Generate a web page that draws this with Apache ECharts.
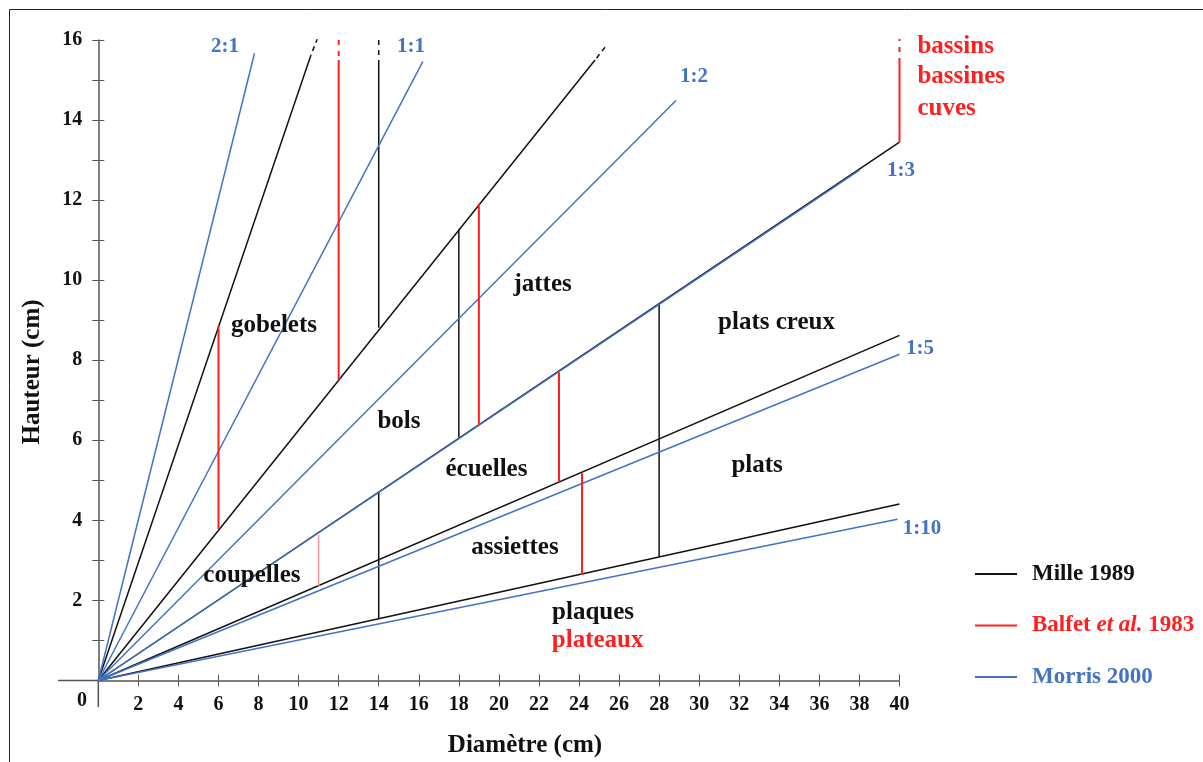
<!DOCTYPE html>
<html>
<head>
<meta charset="utf-8">
<script src="https://cdn.jsdelivr.net/npm/echarts@6/dist/echarts.min.js"></script>
<style>
html, body { margin: 0; padding: 0; background: #fff; }
#chart { width: 1203px; height: 762px; }
</style>
</head>
<body>
<div id="chart"></div>
<script>
// Mille 1989 : droites issues de l'origine (fin du trait plein)
var milleRays = [[10.6, 15.6], [24.8, 15.5], [40, 13.45], [40, 8.62], [40, 4.41]];
// prolongement en pointillés [x1, y1, x2, y2]
var milleRayTips = [[10.6, 15.6, 10.95, 16.05], [24.8, 15.5, 25.3, 15.82]];
// limites verticales [diamètre, hauteur basse, hauteur haute]
var milleBounds = [[14, 8.81, 15.5], [14, 1.55, 4.7], [18, 6.07, 11.28], [28, 3.1, 9.39]];
var milleBoundTips = [[14, 15.5, 16]];

// Balfet et al. 1983
var balfetBounds = [[6, 3.78, 8.85], [12, 7.51, 15.5], [19, 6.39, 11.91], [23, 4.97, 7.7], [24.15, 2.64, 5.18], [40, 13.45, 15.5]];
var balfetFaint = [[11, 2.36, 3.64]];
var balfetBoundTips = [[12, 15.5, 16], [40, 15.5, 16.1]];

// Morris 2000 : rapports diamètre / hauteur
var morrisRays = [[7.8, 15.67], [16.2, 15.46], [28.84, 14.49], [38, 12.75], [40, 8.15], [39.9, 4.03]];
var morrisRatios = ['2:1', '1:1', '1:2', '1:3', '1:5', '1:10'];
var morrisRatioAt = [[6.32, 15.83], [15.61, 15.83], [29.74, 15.08], [40.07, 12.73], [41.02, 8.28], [41.12, 3.79]];

// noms des formes [texte, diamètre, hauteur]
var formes = [
    ['gobelets', 8.77, 8.86],
    ['jattes', 22.18, 9.88],
    ['plats creux', 33.86, 8.93],
    ['bols', 15.01, 6.46],
    ['écuelles', 19.38, 5.28],
    ['plats', 32.89, 5.38],
    ['assiettes', 20.8, 3.31],
    ['coupelles', 7.67, 2.61],
    ['plaques', 24.7, 1.69]
];
var formesRouge = [['plateaux', 24.93, 0.99]];
var bassins = [['bassins', 40.87, 15.83], ['bassines', 40.87, 15.08], ['cuves', 40.87, 14.28]];

var xTicks = [2, 4, 6, 8, 10, 12, 14, 16, 18, 20, 22, 24, 26, 28, 30, 32, 34, 36, 38, 40];
var yTicks = [1, 2, 3, 4, 5, 6, 7, 8, 9, 10, 11, 12, 13, 14, 15, 16];
var yLabels = [2, 4, 6, 8, 10, 12, 14, 16];

var SERIF = '"Liberation Serif", "DejaVu Serif", serif';
var BLACK = '#111111', RED = '#ff1f1f', BLUE = '#4472c4', FAINT = '#f29a9a';
var AXIS = '#555555';

var mychart = echarts.init(document.getElementById('chart'));

function seg(name, color, width, pts, dash, z) {
    return {
        name: name,
        type: 'line',
        data: pts,
        symbol: 'none',
        silent: true,
        animation: false,
        color: color,
        itemStyle: { color: color },
        lineStyle: { color: color, width: width, type: dash || 'solid' },
        z: z
    };
}

function labels(rows, color, size, pos) {
    return {
        type: 'scatter',
        data: rows.map(function (r) { return [r[1], r[2], r[0]]; }),
        symbolSize: 1,
        clip: false,
        silent: true,
        animation: false,
        itemStyle: { color: 'rgba(0,0,0,0)', opacity: 1 },
        label: {
            show: true,
            position: pos || 'inside',
            distance: 0,
            formatter: function (p) { return p.value[2]; },
            color: color,
            opacity: 1,
            fontFamily: SERIF,
            fontWeight: 'bold',
            fontSize: size
        },
        z: 10
    };
}

var series = [];
var MILLE = 'Mille 1989', BALFET = 'Balfet et al. 1983', MORRIS = 'Morris 2000';

milleRays.forEach(function (p) {
    series.push(seg(MILLE, BLACK, 1.5, [[0, 0], p], null, 2));
});
milleRayTips.forEach(function (t) {
    series.push(seg(MILLE, BLACK, 1.5, [[t[2], t[3]], [t[0], t[1]]], [5, 4], 2));
});
milleBounds.forEach(function (b) {
    series.push(seg(MILLE, BLACK, 1.5, [[b[0], b[1]], [b[0], b[2]]], null, 2));
});
milleBoundTips.forEach(function (b) {
    series.push(seg(MILLE, BLACK, 1.5, [[b[0], b[2]], [b[0], b[1]]], [5, 5], 2));
});

morrisRays.forEach(function (p) {
    series.push(seg(MORRIS, BLUE, 1.5, [[0, 0], p], null, 3));
});

balfetBounds.forEach(function (b) {
    series.push(seg(BALFET, RED, 2, [[b[0], b[1]], [b[0], b[2]]], null, 4));
});
balfetFaint.forEach(function (b) {
    series.push(seg(BALFET, FAINT, 1.5, [[b[0], b[1]], [b[0], b[2]]], null, 4));
});
balfetBoundTips.forEach(function (b) {
    series.push(seg(BALFET, RED, 2, [[b[0], b[2]], [b[0], b[1]]], [5, 6], 4));
});

series.push(labels(formes, BLACK, 25));
series.push(labels(formesRouge, RED, 25));
series.push(labels(bassins, RED, 25, 'right'));
series.push(labels(morrisRatios.map(function (n, i) {
    return [n, morrisRatioAt[i][0], morrisRatioAt[i][1]];
}), BLUE, 21));

var tickFont = { fontFamily: SERIF, fontWeight: 'bold', fontSize: 20, color: BLACK };

// les axes : un jeu pour les graduations extérieures, un second pour les graduations intérieures
function xAx(inside) {
    return {
        type: 'value',
        position: 'bottom',
        min: 0,
        max: 40,
        splitLine: { show: false },
        axisLine: { show: !inside, onZero: false, lineStyle: { color: AXIS, width: 1.5 } },
        axisTick: { show: true, inside: inside, length: 6, customValues: xTicks, lineStyle: { color: AXIS, width: 1 } },
        axisLabel: inside ? { show: false } : Object.assign({ show: true, margin: 14, customValues: xTicks }, tickFont)
    };
}
function yAx(inside) {
    return {
        type: 'value',
        position: 'left',
        min: 0,
        max: 16,
        splitLine: { show: false },
        axisLine: { show: !inside, onZero: false, lineStyle: { color: AXIS, width: 1.5 } },
        axisTick: { show: true, inside: inside, length: 6, customValues: yTicks, lineStyle: { color: AXIS, width: 1 } },
        axisLabel: inside ? { show: false } : Object.assign({ show: true, margin: 16, customValues: yLabels }, tickFont)
    };
}

var option = {
    animation: false,
    backgroundColor: '#ffffff',
    grid: {
        left: 98.3,
        right: 303.5,
        top: 40,
        bottom: 81.5,
        containLabel: false,
        outerBoundsMode: 'none'
    },
    xAxis: [xAx(false), xAx(true)],
    yAxis: [yAx(false), yAx(true)],
    legend: {
        orient: 'vertical',
        left: 975,
        top: 562,
        padding: 0,
        icon: 'rect',
        itemWidth: 42,
        itemHeight: 2,
        itemGap: 27.5,
        selectedMode: false,
        data: [
            { name: MILLE, textStyle: { color: BLACK } },
            { name: BALFET, textStyle: { color: RED } },
            { name: MORRIS, textStyle: { color: BLUE } }
        ],
        formatter: function (n) {
            return n === BALFET ? '{r|Balfet }{i|et al.}{r| 1983}' : n;
        },
        textStyle: {
            fontFamily: SERIF,
            fontWeight: 'bold',
            fontSize: 23,
            lineHeight: 24,
            padding: [0, 0, 0, 10],
            rich: {
                r: { color: RED, fontFamily: SERIF, fontWeight: 'bold', fontSize: 23, lineHeight: 24 },
                i: { color: RED, fontFamily: SERIF, fontWeight: 'bold', fontStyle: 'italic', fontSize: 23, lineHeight: 24 }
            }
        }
    },
    graphic: [{
        type: 'polyline',
        silent: true,
        shape: { points: [[9.5, 762], [9.5, 9.5], [1203, 9.5]] },
        style: { stroke: '#222', lineWidth: 1, fill: null }
    }, {
        // prolongements des axes au-delà de l'origine
        type: 'polyline',
        silent: true,
        shape: { points: [[58, 680.5], [98.3, 680.5], [98.3, 707]] },
        style: { stroke: AXIS, lineWidth: 1.5, fill: null }
    }, {
        type: 'text',
        x: 82, y: 701,
        silent: true,
        style: { text: '0', font: 'bold 20px ' + SERIF, fill: BLACK, align: 'center', verticalAlign: 'middle' }
    }, {
        type: 'text',
        x: 525, y: 746,
        silent: true,
        style: { text: 'Diamètre (cm)', font: 'bold 25px ' + SERIF, fill: BLACK, align: 'center', verticalAlign: 'middle' }
    }, {
        type: 'text',
        x: 33, y: 372,
        rotation: Math.PI / 2,
        silent: true,
        style: { text: 'Hauteur (cm)', font: 'bold 25px ' + SERIF, fill: BLACK, align: 'center', verticalAlign: 'middle' }
    }],
    series: series
};

mychart.setOption(option);
</script>
</body>
</html>
